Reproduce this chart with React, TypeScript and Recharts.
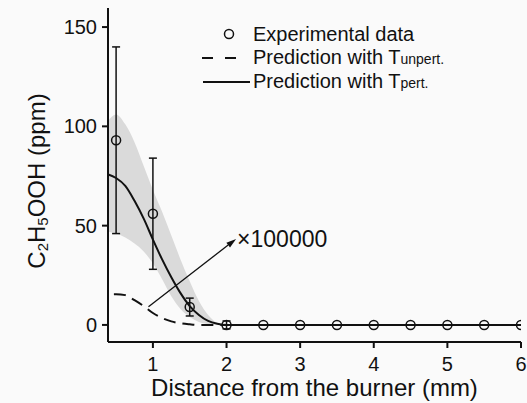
import React from "react";
import {
  Area,
  ComposedChart,
  ErrorBar,
  Label,
  Legend,
  Line,
  ReferenceLine,
  Scatter,
  XAxis,
  YAxis,
} from "recharts";

const FONT = '"Liberation Sans", Arial, sans-serif';
const INK = "#111";

// measured C2H5OOH profile (mm, ppm) with its error bars
const expDistance = [0.5, 1, 1.5, 2, 2.5, 3, 3.5, 4, 4.5, 5, 5.5, 6];
const expValue = [93, 56, 9, 0, 0, 0, 0, 0, 0, 0, 0, 0];
const expError = [47, 28, 4.5, 2, 0, 0, 0, 0, 0, 0, 0, 0];

// model profiles, read every 0.125 mm near the burner
const modelDistance = [0.375, 0.5, 0.625, 0.75, 0.875, 1, 1.125, 1.25, 1.375, 1.5, 1.625, 1.75, 1.875, 2, 2.25, 6];
const pertValue = [76, 74, 70, 62.5, 53.5, 43, 33, 24, 16, 9.5, 5, 2, 0.6, 0, 0, 0];
const pertLow = [47, 46, 44, 41, 37, 31, 23, 14.5, 8, 4, 1.5, 0.5, 0, 0, 0, 0];
const pertHigh = [102, 106, 101, 92, 80, 68, 57, 45, 33, 22, 12, 5, 1, 0, 0, 0];
const unpertValue = [15.5, 15.5, 15, 12.5, 9.5, 6, 3.5, 1.8, 0.8, 0.3, 0, 0, 0, 0, 0, 0];

const xTicks = [1, 2, 3, 4, 5, 6];
const yTicks = [0, 50, 100, 150];

// the "x100000" pointer goes from the unperturbed curve up to its label
const arrowFrom = { x: 0.94, y: 9.2 };
const arrowTo = { x: 2.13, y: 43.3 };

const expData = expDistance.map((x, i) => ({ x, y: expValue[i], err: expError[i] }));
const pertData = modelDistance.map((x, i) => ({ x, y: pertValue[i] }));
const bandData = modelDistance.map((x, i) => ({ x, band: [pertLow[i], pertHigh[i]] }));
const unpertData = modelDistance.map((x, i) => ({ x, y: unpertValue[i] }));

const axisStyle = { stroke: INK, strokeWidth: 2 };
const tickStyle = { fontSize: 20, fill: INK, fontFamily: FONT };

function OpenCircle(props: any) {
  const { cx, cy } = props;
  if (cx == null || cy == null) return null;
  return <circle cx={cx} cy={cy} r={4.5} fill="none" stroke={INK} strokeWidth={1.5} />;
}

function Pointer(props: any) {
  const { x1, y1, x2, y2 } = props;
  if ([x1, y1, x2, y2].some((v) => typeof v !== "number")) return null;
  const ang = Math.atan2(y2 - y1, x2 - x1);
  const len = 10;
  const half = 3;
  const bx = x2 - len * Math.cos(ang);
  const by = y2 - len * Math.sin(ang);
  const pts = [
    [x2, y2],
    [bx + half * Math.sin(ang), by - half * Math.cos(ang)],
    [bx - half * Math.sin(ang), by + half * Math.cos(ang)],
  ]
    .map((p) => p.join(","))
    .join(" ");
  return (
    <g>
      <line x1={x1} y1={y1} x2={bx} y2={by} stroke={INK} strokeWidth={1.3} />
      <polygon points={pts} fill={INK} />
      <text x={x2 + 1} y={y2 + 8} fontSize={23} fill={INK} fontFamily={FONT}>
        ×100000
      </text>
    </g>
  );
}

function YTitle(props: any) {
  const vb = props.viewBox || { x: 0, y: 8, width: 108, height: 334 };
  const x = vb.x + 45;
  const y = 181;
  return (
    <text
      x={x}
      y={y}
      transform={`rotate(-90 ${x} ${y})`}
      textAnchor="middle"
      fontSize={24}
      fill={INK}
      fontFamily={FONT}
    >
      C<tspan fontSize={15} dy={3}>2</tspan>
      <tspan dy={-3}>H</tspan>
      <tspan fontSize={15} dy={3}>5</tspan>
      <tspan dy={-3}>OOH (ppm)</tspan>
    </text>
  );
}

function LegendBox() {
  const row: React.CSSProperties = { display: "flex", alignItems: "center", height: 24 };
  const sub: React.CSSProperties = { fontSize: 14 };
  return (
    <div style={{ fontFamily: FONT, fontSize: 20, color: INK, lineHeight: "24px", whiteSpace: "nowrap" }}>
      <div style={row}>
        <svg width={53} height={24}>
          <circle cx={29} cy={12} r={4.5} fill="none" stroke={INK} strokeWidth={1.5} />
        </svg>
        <span>Experimental data</span>
      </div>
      <div style={row}>
        <svg width={53} height={24}>
          <line x1={2} y1={12} x2={37} y2={12} stroke={INK} strokeWidth={2} strokeDasharray="11 12" />
        </svg>
        <span>
          Prediction with T<span style={sub}>unpert.</span>
        </span>
      </div>
      <div style={row}>
        <svg width={53} height={24}>
          <line x1={3} y1={12} x2={50} y2={12} stroke={INK} strokeWidth={2} />
        </svg>
        <span>
          Prediction with T<span style={sub}>pert.</span>
        </span>
      </div>
    </div>
  );
}

export default function App() {
  return (
    <div style={{ position: "absolute", left: 0, top: 0, background: "#fafafa", fontFamily: FONT }}>
      <ComposedChart width={527} height={403} margin={{ top: 8, right: 6, bottom: 0, left: 0 }}>
        <XAxis
          dataKey="x"
          type="number"
          domain={[0.39, 6]}
          ticks={xTicks}
          allowDataOverflow
          height={61}
          tickSize={6}
          tickMargin={9}
          axisLine={axisStyle}
          tickLine={axisStyle}
          tick={tickStyle}
        >
          <Label
            value="Distance from the burner (mm)"
            position="insideBottom"
            offset={7}
            style={{ fontSize: 24, fill: INK, fontFamily: FONT }}
          />
        </XAxis>
        <XAxis
          xAxisId="top"
          orientation="top"
          type="number"
          domain={[0.39, 6]}
          allowDataOverflow
          height={0}
          tick={false}
          tickLine={false}
          axisLine={axisStyle}
        />
        <YAxis
          dataKey="y"
          type="number"
          domain={[-8.6, 159.6]}
          ticks={yTicks}
          allowDataOverflow
          width={108}
          tickSize={6}
          tickMargin={5}
          axisLine={axisStyle}
          tickLine={axisStyle}
          tick={tickStyle}
        >
          <Label content={YTitle} />
        </YAxis>
        <YAxis
          yAxisId="right"
          orientation="right"
          type="number"
          domain={[-8.6, 159.6]}
          allowDataOverflow
          width={0}
          tick={false}
          tickLine={false}
          axisLine={axisStyle}
        />
        <Legend
          layout="vertical"
          align="center"
          verticalAlign="middle"
          wrapperStyle={{ top: 22, left: 200 }}
          content={() => <LegendBox />}
        />
        <Area
          data={bandData}
          dataKey="band"
          type="monotone"
          stroke="none"
          fill="#dadada"
          fillOpacity={1}
          isAnimationActive={false}
        />
        <Line
          data={unpertData}
          dataKey="y"
          type="monotone"
          stroke={INK}
          strokeWidth={2}
          strokeDasharray="12 7"
          strokeDashoffset={12}
          dot={false}
          isAnimationActive={false}
        />
        <Line
          data={pertData}
          dataKey="y"
          type="monotone"
          stroke={INK}
          strokeWidth={2}
          dot={false}
          isAnimationActive={false}
        />
        <Scatter data={expData} dataKey="y" shape={OpenCircle} isAnimationActive={false}>
          <ErrorBar dataKey="err" direction="y" width={4} stroke={INK} strokeWidth={1.5} />
        </Scatter>
        <ReferenceLine segment={[arrowFrom, arrowTo]} shape={Pointer} />
      </ComposedChart>
    </div>
  );
}
